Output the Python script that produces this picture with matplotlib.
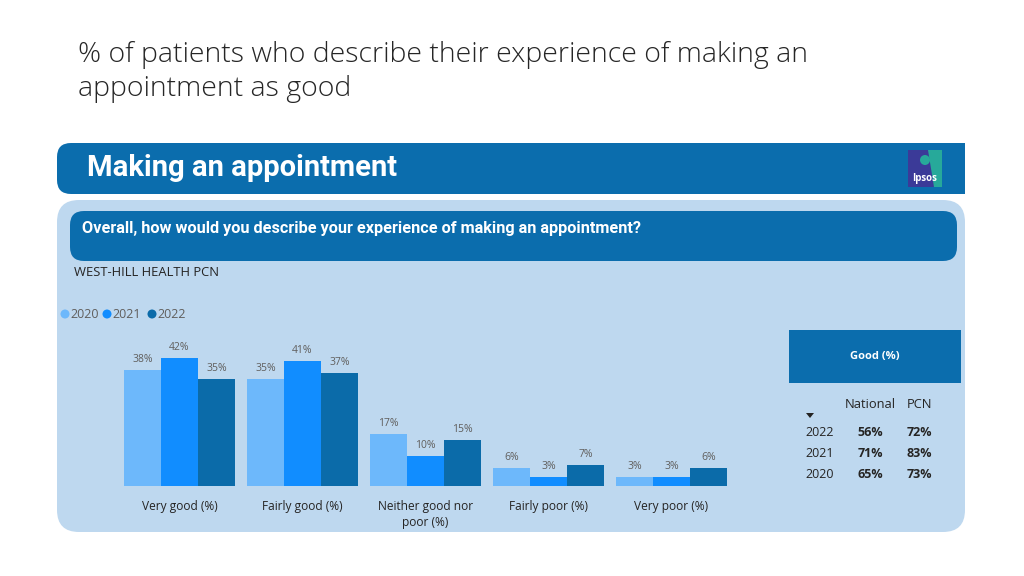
"""
plot.py

Recreates the "Making an appointment" survey slide as a grouped bar chart.
"""

import matplotlib.pyplot as plt
from matplotlib.patches import FancyBboxPatch, Rectangle, Circle, Polygon

# Chart data
categories = ["Very good (%)", "Fairly good (%)", "Neither good nor\npoor (%)",
              "Fairly poor (%)", "Very poor (%)"]
years = ["2020", "2021", "2022"]
y2020 = [38, 35, 17, 6, 3]
y2021 = [42, 41, 10, 3, 3]
y2022 = [35, 37, 15, 7, 6]

# Good (%) table
table_years = ["2022", "2021", "2020"]
national = [56, 71, 65]
pcn = [72, 83, 73]

colors = ["#6db8fb", "#118dff", "#0b6ba9"]
dark_blue = "#0b6dad"
panel = "#bed8ef"

plt.rcParams["font.family"] = ["Open Sans", "DejaVu Sans"]

fig = plt.figure(figsize=(10.24, 5.76), dpi=100)
fig.patch.set_facecolor("white")

# Background axes in pixel coordinates for decoration
bg = fig.add_axes([0, 0, 1, 1])
bg.set_xlim(0, 1024)
bg.set_ylim(576, 0)
bg.axis("off")

# Slide title
bg.text(78, 55, "% of patients who describe their experience of making an",
        fontsize=20.5, color="#262626", va="center", ha="left", fontweight="light")
bg.text(78, 89, "appointment as good",
        fontsize=20.5, color="#262626", va="center", ha="left", fontweight="light")

# Header banner
bg.add_patch(FancyBboxPatch((57, 143), 960, 51, boxstyle="round,pad=0,rounding_size=14",
                            facecolor=dark_blue, edgecolor="none"))
bg.add_patch(Rectangle((965, 130), 60, 80, facecolor="white", edgecolor="none"))
bg.text(87, 168, "Making an appointment", fontsize=21, color="white",
        fontweight="bold", va="center", ha="left", family=["Roboto", "DejaVu Sans"])

# Ipsos logo
bg.add_patch(Rectangle((908, 150), 34, 37, facecolor="#3b3a98", edgecolor="none"))
bg.add_patch(Polygon([(928, 150), (942, 150), (942, 187), (934, 187)],
                     facecolor="#27a99a", edgecolor="none"))
bg.add_patch(Circle((925, 160), 5, facecolor="#27a99a", edgecolor="none"))
bg.text(925, 178, "Ipsos", fontsize=7, color="white", fontweight="bold",
        ha="center", va="center")

# Light panel
bg.add_patch(FancyBboxPatch((57, 200), 908, 332, boxstyle="round,pad=0,rounding_size=22",
                            facecolor=panel, edgecolor="none"))

# Question box
bg.add_patch(FancyBboxPatch((70, 211), 887, 50, boxstyle="round,pad=0,rounding_size=14",
                            facecolor=dark_blue, edgecolor="none"))
bg.text(82, 228, "Overall, how would you describe your experience of making an appointment?",
        fontsize=11.7, color="white", fontweight="bold", va="center", ha="left",
        family=["Roboto", "DejaVu Sans"])

bg.text(74, 273, "WEST-HILL HEALTH PCN", fontsize=9.4, color="#252423",
        va="center", ha="left")

# Legend
legend_x = [65, 107, 152]
for lx, year, col in zip(legend_x, years, colors):
    bg.add_patch(Circle((lx, 314), 4.5, facecolor=col, edgecolor="none"))
    bg.text(lx + 5, 314, year, fontsize=9, color="#605e5c", va="center", ha="left")

# Good (%) table
bg.add_patch(Rectangle((789, 330), 172, 53, facecolor=dark_blue, edgecolor="none"))
bg.text(875, 356, "Good (%)", fontsize=8, color="white", fontweight="bold",
        ha="center", va="center")
bg.text(870, 404, "National", fontsize=9.3, color="#252423", ha="center", va="center")
bg.text(919, 404, "PCN", fontsize=9.3, color="#252423", ha="center", va="center")
bg.add_patch(Polygon([(806, 413), (814, 413), (810, 418)], facecolor="#252423",
                     edgecolor="none"))
for i, yr in enumerate(table_years):
    ty = 433 + i * 20.5
    bg.text(820, ty, yr, fontsize=9, color="#252423", ha="center", va="center")
    bg.text(870, ty, f"{national[i]}%", fontsize=9, color="#252423",
            fontweight="bold", ha="center", va="center")
    bg.text(919, ty, f"{pcn[i]}%", fontsize=9, color="#252423",
            fontweight="bold", ha="center", va="center")

# Bar chart axes placed to line up with the panel
ax = fig.add_axes([118 / 1024, 90 / 576, 615 / 1024, 152.5 / 576])
ax.patch.set_alpha(0)
width = 0.3
x = range(len(categories))
for k, (vals, col) in enumerate(zip([y2020, y2021, y2022], colors)):
    pos = [i + (k - 1) * width for i in x]
    bars = ax.bar(pos, vals, width=width, color=col, edgecolor="none")
    for b, v in zip(bars, vals):
        ax.text(b.get_x() + b.get_width() / 2, v + 1.6, f"{v}%", fontsize=7.5,
                color="#605e5c", ha="center", va="bottom")

ax.set_xlim(-0.5, 4.5)
ax.set_ylim(0, 50)
ax.set_xticks(list(x))
ax.set_xticklabels(categories, fontsize=8.6, color="#252423", linespacing=1.35)
ax.tick_params(axis="x", length=0, pad=10)
ax.set_yticks([])
for s in ax.spines.values():
    s.set_visible(False)

fig.savefig("out.png", dpi=100)
